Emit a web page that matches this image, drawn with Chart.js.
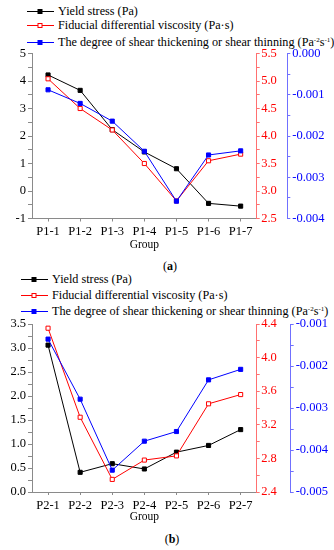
<!DOCTYPE html>
<html>
<head>
<meta charset="utf-8">
<script src="https://cdn.jsdelivr.net/npm/chart.js@4.4.1/dist/chart.umd.min.js"></script>
<style>
body { margin: 0; background: #fff; }
#page { position: relative; width: 334px; height: 550px; font-family: "Liberation Serif", "Times New Roman", serif; color: #000; }
#page canvas { position: absolute; left: 0; }
.legend-row { position: absolute; height: 16px; font-size: 12.2px; white-space: nowrap; display: flex; align-items: center; }
.legend-row svg { margin-right: 4px; flex: none; }
.caption { position: absolute; font-size: 12px; transform: translate(-50%, -50%); }
sup { font-size: 7px; vertical-align: 4px; line-height: 0; }
</style>
</head>
<body>
<div id="page">
  <div id="legendA"></div>
  <canvas id="chartA" width="334" height="252" style="top:0px"></canvas>
  <div class="caption" style="left:170px; top:266px">(<b>a</b>)</div>

  <div id="legendB"></div>
  <canvas id="chartB" width="334" height="256" style="top:268px"></canvas>
  <div class="caption" style="left:172px; top:539px">(<b>b</b>)</div>
</div>

<script>
// series names / colours (legend + datasets)
const seriesNames = [
    'Yield stress (Pa)',
    'Fiducial differential viscosity (Pa·s)',
    'The degree of shear thickening or shear thinning (Pa<sup>-2</sup>s<sup>-1</sup>)'
];
const seriesColors = ['#000000', '#ff0000', '#0000ff'];

// panel (a)
const groupsA = ['P1-1', 'P1-2', 'P1-3', 'P1-4', 'P1-5', 'P1-6', 'P1-7'];
const yieldA = [4.22, 3.66, 2.23, 1.42, 0.81, -0.45, -0.55];
const viscA = [5.04, 4.50, 4.11, 3.50, 2.82, 3.55, 3.67];
const degreeA = [-0.00088, -0.00121, -0.00164, -0.00237, -0.00358, -0.00246, -0.00236];
// [min, max, labelled step]
const leftRangeA = [-1, 5, 1];
const redRangeA = [2.5, 5.5, 0.5];
const blueRangeA = [-0.004, 0, 0.001];

// panel (b)
const groupsB = ['P2-1', 'P2-2', 'P2-3', 'P2-4', 'P2-5', 'P2-6', 'P2-7'];
const yieldB = [3.06, 0.41, 0.59, 0.48, 0.83, 0.97, 1.30];
const viscB = [4.35, 3.29, 2.55, 2.78, 2.83, 3.45, 3.56];
const degreeB = [-0.00136, -0.00279, -0.00448, -0.00379, -0.00356, -0.00233, -0.00208];
const leftRangeB = [0, 3.5, 0.5];
const redRangeB = [2.4, 4.4, 0.4];
const blueRangeB = [-0.005, -0.001, 0.001];

const FONT = '"Liberation Serif", "Times New Roman", serif';

function buildLegend(id, left, rows) {
    const box = document.getElementById(id);
    seriesNames.forEach((name, i) => {
        const row = document.createElement('div');
        row.className = 'legend-row';
        row.style.left = left + 'px';
        row.style.top = (rows[i] - 8) + 'px';
        const c = seriesColors[i];
        const fill = i === 1 ? '#fff' : c;
        row.innerHTML =
            `<svg width="27" height="16"><line x1="0" y1="8.5" x2="27" y2="8.5" stroke="${c}" stroke-width="1"/>` +
            `<rect x="11" y="6.5" width="4" height="4" fill="${fill}" stroke="${c}" stroke-width="1"/></svg>` +
            `<span>${name}</span>`;
        box.appendChild(row);
    });
}

function yAxis(position, weight, range, decimals, textColor, lineColor, width, tickLen, pad) {
    const [min, max, step] = range;
    return {
        type: 'linear',
        position: position,
        weight: weight,
        min: min,
        max: max,
        afterFit: s => { s.width = width; },
        afterBuildTicks: s => {
            // labelled ticks plus an unlabelled minor tick halfway
            const list = [];
            const n = Math.round((max - min) / (step / 2));
            for (let i = 0; i <= n; i++) {
                list.push({ value: min + i * step / 2 });
            }
            s.ticks = list;
        },
        grid: { drawOnChartArea: false, tickLength: tickLen, color: lineColor },
        border: { color: lineColor, width: 1 },
        ticks: {
            autoSkip: false,
            padding: pad,
            color: textColor,
            font: { family: FONT, size: 12.5 },
            callback: function(value) {
                const k = (value - min) / step;
                if (Math.abs(k - Math.round(k)) > 1e-6) return '';
                return Number(value).toFixed(decimals);
            }
        }
    };
}

function makeChart(id, groups, yieldData, viscData, degreeData, ranges, opts) {
    const ctx = document.getElementById(id).getContext('2d');
    const pt = { pointStyle: 'rect', pointRadius: 2.9, borderWidth: 1, tension: 0 };
    return new Chart(ctx, {
        type: 'line',
        data: {
            labels: groups,
            datasets: [
                Object.assign({
                    label: 'Yield stress (Pa)',
                    data: yieldData,
                    yAxisID: 'yLeft',
                    borderColor: seriesColors[0],
                    backgroundColor: seriesColors[0],
                    pointBackgroundColor: seriesColors[0],
                    order: 3
                }, pt),
                Object.assign({
                    label: 'Fiducial differential viscosity (Pa·s)',
                    data: viscData,
                    yAxisID: 'yRed',
                    borderColor: seriesColors[1],
                    backgroundColor: '#fff',
                    pointBackgroundColor: '#fff',
                    order: 2
                }, pt),
                Object.assign({
                    label: 'The degree of shear thickening or shear thinning',
                    data: degreeData,
                    yAxisID: 'yBlue',
                    borderColor: seriesColors[2],
                    backgroundColor: seriesColors[2],
                    pointBackgroundColor: seriesColors[2],
                    order: 1
                }, pt)
            ]
        },
        options: {
            responsive: false,
            animation: false,
            devicePixelRatio: 1,
            layout: { padding: { top: opts.top, left: 0, right: 0, bottom: 0 } },
            plugins: { legend: { display: false }, tooltip: { enabled: false } },
            scales: {
                x: {
                    type: 'category',
                    offset: true,
                    afterFit: s => { s.height = opts.xHeight; },
                    grid: { drawOnChartArea: false, tickLength: 3, color: '#8a8a8a' },
                    border: { color: '#8a8a8a', width: 1 },
                    ticks: { padding: opts.xPad, color: '#000', font: { family: FONT, size: 12.5 } },
                    title: {
                        display: true,
                        text: 'Group',
                        color: '#000',
                        padding: 0,
                        font: { family: FONT, size: 11.5 }
                    }
                },
                yLeft: yAxis('left', 0, ranges[0], opts.leftDec, '#000', '#8a8a8a', 32, 4, 2),
                yRed: yAxis('right', 0, ranges[1], 1, '#ff0000', '#ff7070', opts.redW, 3, 1.5),
                yBlue: yAxis('right', 1, ranges[2], 3, '#0000ff', '#7070ff', opts.blueW, 3, 2)
            }
        }
    });
}

buildLegend('legendA', 27, [11, 25, 42]);
buildLegend('legendB', 21, [279, 295, 311]);

makeChart('chartA', groupsA, yieldA, viscA, degreeA,
    [leftRangeA, redRangeA, blueRangeA],
    { top: 53.5, xHeight: 33.5, xPad: 2.5, leftDec: 0, redW: 30.6, blueW: 46.7 });

makeChart('chartB', groupsB, yieldB, viscB, degreeB,
    [leftRangeB, redRangeB, blueRangeB],
    { top: 56, xHeight: 32, xPad: 3.5, leftDec: 1, redW: 34, blueW: 43.3 });
</script>
</body>
</html>
